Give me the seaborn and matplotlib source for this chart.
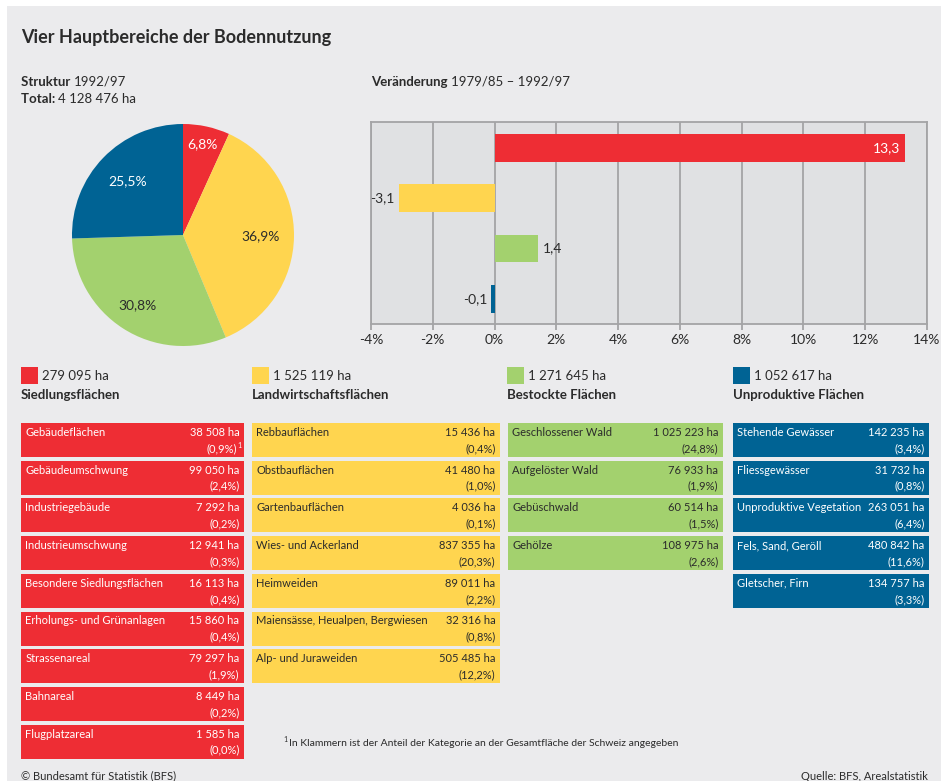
import matplotlib
matplotlib.use("Agg")
import matplotlib.pyplot as plt
import numpy as np
import pandas as pd
import seaborn as sns
from matplotlib.patches import Rectangle

# ---------------------------------------------------------------- data
categories = ["Siedlungsflächen", "Landwirtschaftsflächen",
              "Bestockte Flächen", "Unproduktive Flächen"]
area_ha = [279095, 1525119, 1271645, 1052617]
share_pct = [6.8, 36.9, 30.8, 25.5]
change_pct = [13.3, -3.1, 1.4, -0.1]
total_ha = 4128476

siedlung_names = ["Gebäudeflächen", "Gebäudeumschwung", "Industriegebäude",
                  "Industrieumschwung", "Besondere Siedlungsflächen",
                  "Erholungs- und Grünanlagen", "Strassenareal", "Bahnareal",
                  "Flugplatzareal"]
siedlung_ha = [38508, 99050, 7292, 12941, 16113, 15860, 79297, 8449, 1585]
siedlung_pct = [0.9, 2.4, 0.2, 0.3, 0.4, 0.4, 1.9, 0.2, 0.0]

landwirtschaft_names = ["Rebbauflächen", "Obstbauflächen", "Gartenbauflächen",
                        "Wies- und Ackerland", "Heimweiden",
                        "Maiensässe, Heualpen, Bergwiesen", "Alp- und Juraweiden"]
landwirtschaft_ha = [15436, 41480, 4036, 837355, 89011, 32316, 505485]
landwirtschaft_pct = [0.4, 1.0, 0.1, 20.3, 2.2, 0.8, 12.2]

bestockt_names = ["Geschlossener Wald", "Aufgelöster Wald", "Gebüschwald", "Gehölze"]
bestockt_ha = [1025223, 76933, 60514, 108975]
bestockt_pct = [24.8, 1.9, 1.5, 2.6]

unproduktiv_names = ["Stehende Gewässer", "Fliessgewässer", "Unproduktive Vegetation",
                     "Fels, Sand, Geröll", "Gletscher, Firn"]
unproduktiv_ha = [142235, 31732, 263051, 480842, 134757]
unproduktiv_pct = [3.4, 0.8, 6.4, 11.6, 3.3]

# ---------------------------------------------------------------- style
COLORS = ["#ee2d34", "#ffd54f", "#a3d16e", "#006394"]
TEXT_ON = ["white", "#2b2b2b", "#2b2b2b", "white"]
PANEL = "#ebebed"
PLOT_BG = "#e0e1e3"
GRID = "#a4a4a6"
DARK = "#2b2b2b"

sns.set_theme(style="white")
plt.rcParams["font.family"] = ["Lato", "DejaVu Sans"]


def fmt_ha(v):
    return f"{v:,}".replace(",", " ") + " ha"


def fmt_dec(v):
    return f"{v:.1f}".replace(".", ",")


W, H = 941, 781
fig = plt.figure(figsize=(W / 100, H / 100), dpi=100, facecolor="white")


def frac(l, t, r, b):
    return [l / W, 1 - b / H, (r - l) / W, (b - t) / H]


# full-size layer in pixel units for the panel, headings and tables
bg = fig.add_axes([0, 0, 1, 1])
bg.set_xlim(0, W)
bg.set_ylim(H, 0)
bg.axis("off")
bg.add_patch(Rectangle((7, 6), W - 7, H - 6, color=PANEL, zorder=0, lw=0))

renderer = fig.canvas.get_renderer()


def rich(x, y, parts, size):
    """Draw consecutive text runs (text, weight) on one line."""
    for txt, weight in parts:
        t = bg.text(x, y, txt, fontsize=size, fontweight=weight, color=DARK,
                    ha="left", va="center")
        bb = t.get_window_extent(renderer=renderer)
        x += bb.width


bg.text(21, 37, "Vier Hauptbereiche der Bodennutzung", fontsize=13,
        fontweight="bold", color=DARK, ha="left", va="center")
rich(21, 82, [("Struktur ", "bold"), ("1992/97", "normal")], 9.5)
rich(21, 99, [("Total: ", "bold"), (fmt_ha(total_ha), "normal")], 9.5)
rich(371, 82, [("Veränderung ", "bold"), ("1979/85 – 1992/97", "normal")], 9.5)

# ---------------------------------------------------------------- pie
ax_pie = fig.add_axes(frac(72, 124, 294, 346))
wedges, _ = ax_pie.pie(share_pct, colors=COLORS, startangle=90,
                       counterclock=False, radius=1.0,
                       wedgeprops=dict(linewidth=0))
ax_pie.set_xlim(-1, 1)
ax_pie.set_ylim(-1, 1)
label_dist = [0.84, 0.70, 0.75, 0.70]
for w, v, d, tc in zip(wedges, share_pct, label_dist, TEXT_ON):
    ang = np.deg2rad((w.theta1 + w.theta2) / 2)
    ax_pie.text(d * np.cos(ang), d * np.sin(ang), fmt_dec(v) + "%",
                ha="center", va="center", fontsize=10, color=tc)

# ---------------------------------------------------------------- bars
ax_bar = fig.add_axes(frac(371, 122.5, 927, 324))
df = pd.DataFrame({"Kategorie": categories, "Veränderung": change_pct})
sns.barplot(data=df, x="Veränderung", y="Kategorie", hue="Kategorie",
            palette=COLORS, orient="h", width=0.55, saturation=1,
            legend=False, linewidth=0, edgecolor="none", ax=ax_bar)
ax_bar.set_facecolor(PLOT_BG)
ax_bar.set_xlim(-4, 14)
ax_bar.set_ylim(3.5, -0.5)
ticks = list(range(-4, 15, 2))
ax_bar.set_xticks(ticks)
ax_bar.set_xticklabels([f"{t}%" for t in ticks])
ax_bar.set_yticks([])
ax_bar.set_xlabel("")
ax_bar.set_ylabel("")
ax_bar.xaxis.grid(True, color=GRID, lw=1.3)
ax_bar.set_axisbelow(True)
for s in ax_bar.spines.values():
    s.set_color(GRID)
    s.set_linewidth(1.3)
ax_bar.tick_params(axis="x", bottom=True, length=4, width=1.3, color=GRID,
                   labelsize=10, labelcolor=DARK, pad=3)

for i, v in enumerate(change_pct):
    if v > 5:
        ax_bar.annotate(fmt_dec(v), (v, i), xytext=(-4, 0), textcoords="offset points",
                        ha="right", va="center", fontsize=10, color="white")
    elif v > 0:
        ax_bar.annotate(fmt_dec(v), (v, i), xytext=(4, 0), textcoords="offset points",
                        ha="left", va="center", fontsize=10, color=DARK)
    else:
        ax_bar.annotate(fmt_dec(v), (v, i), xytext=(-3, 0), textcoords="offset points",
                        ha="right", va="center", fontsize=10, color=DARK)

# ---------------------------------------------------------------- tables
legend_x = [21, 252, 507, 733]
col_left = [21, 252, 508, 733]
col_right = [244, 500, 723, 929]
groups = [
    (siedlung_names, siedlung_ha, siedlung_pct),
    (landwirtschaft_names, landwirtschaft_ha, landwirtschaft_pct),
    (bestockt_names, bestockt_ha, bestockt_pct),
    (unproduktiv_names, unproduktiv_ha, unproduktiv_pct),
]
ROW0, PITCH, BOX_H = 423, 37.7, 34

for k in range(4):
    lx = legend_x[k]
    bg.add_patch(Rectangle((lx, 367), 17, 17, color=COLORS[k], lw=0))
    bg.text(lx + 21, 376, fmt_ha(area_ha[k]), fontsize=9.5, color=DARK,
            ha="left", va="center")
    bg.text(lx, 395, categories[k], fontsize=9.5, fontweight="bold", color=DARK,
            ha="left", va="center")

    names, has, pcts = groups[k]
    l, r = col_left[k], col_right[k]
    for i, (n, h, p) in enumerate(zip(names, has, pcts)):
        top = ROW0 + i * PITCH
        bg.add_patch(Rectangle((l, top), r - l, BOX_H, color=COLORS[k], lw=0))
        bg.text(l + 4.5, top + 9.5, n, fontsize=8, color=TEXT_ON[k],
                ha="left", va="center")
        bg.text(r - 4.5, top + 9.5, fmt_ha(h), fontsize=8, color=TEXT_ON[k],
                ha="right", va="center")
        pct_txt = f"({fmt_dec(p)}%)"
        if k == 0 and i == 0:
            bg.text(r - 2, top + 22.5, "1", fontsize=5, color=TEXT_ON[k],
                    ha="right", va="center")
            bg.text(r - 6.5, top + 25.5, pct_txt, fontsize=8, color=TEXT_ON[k],
                    ha="right", va="center")
        else:
            bg.text(r - 4.5, top + 25.5, pct_txt, fontsize=8, color=TEXT_ON[k],
                    ha="right", va="center")

# ---------------------------------------------------------------- notes
bg.text(283, 740, "1", fontsize=5, color=DARK, ha="left", va="center")
bg.text(289, 743, "In Klammern ist der Anteil der Kategorie an der Gesamtfläche "
        "der Schweiz angegeben", fontsize=7.5, color=DARK, ha="left", va="center")
bg.text(21, 776, "© Bundesamt für Statistik (BFS)", fontsize=8, color=DARK,
        ha="left", va="center")
bg.text(928, 776, "Quelle: BFS, Arealstatistik", fontsize=8, color=DARK,
        ha="right", va="center")

fig.savefig("out.png", dpi=100, facecolor="white")
